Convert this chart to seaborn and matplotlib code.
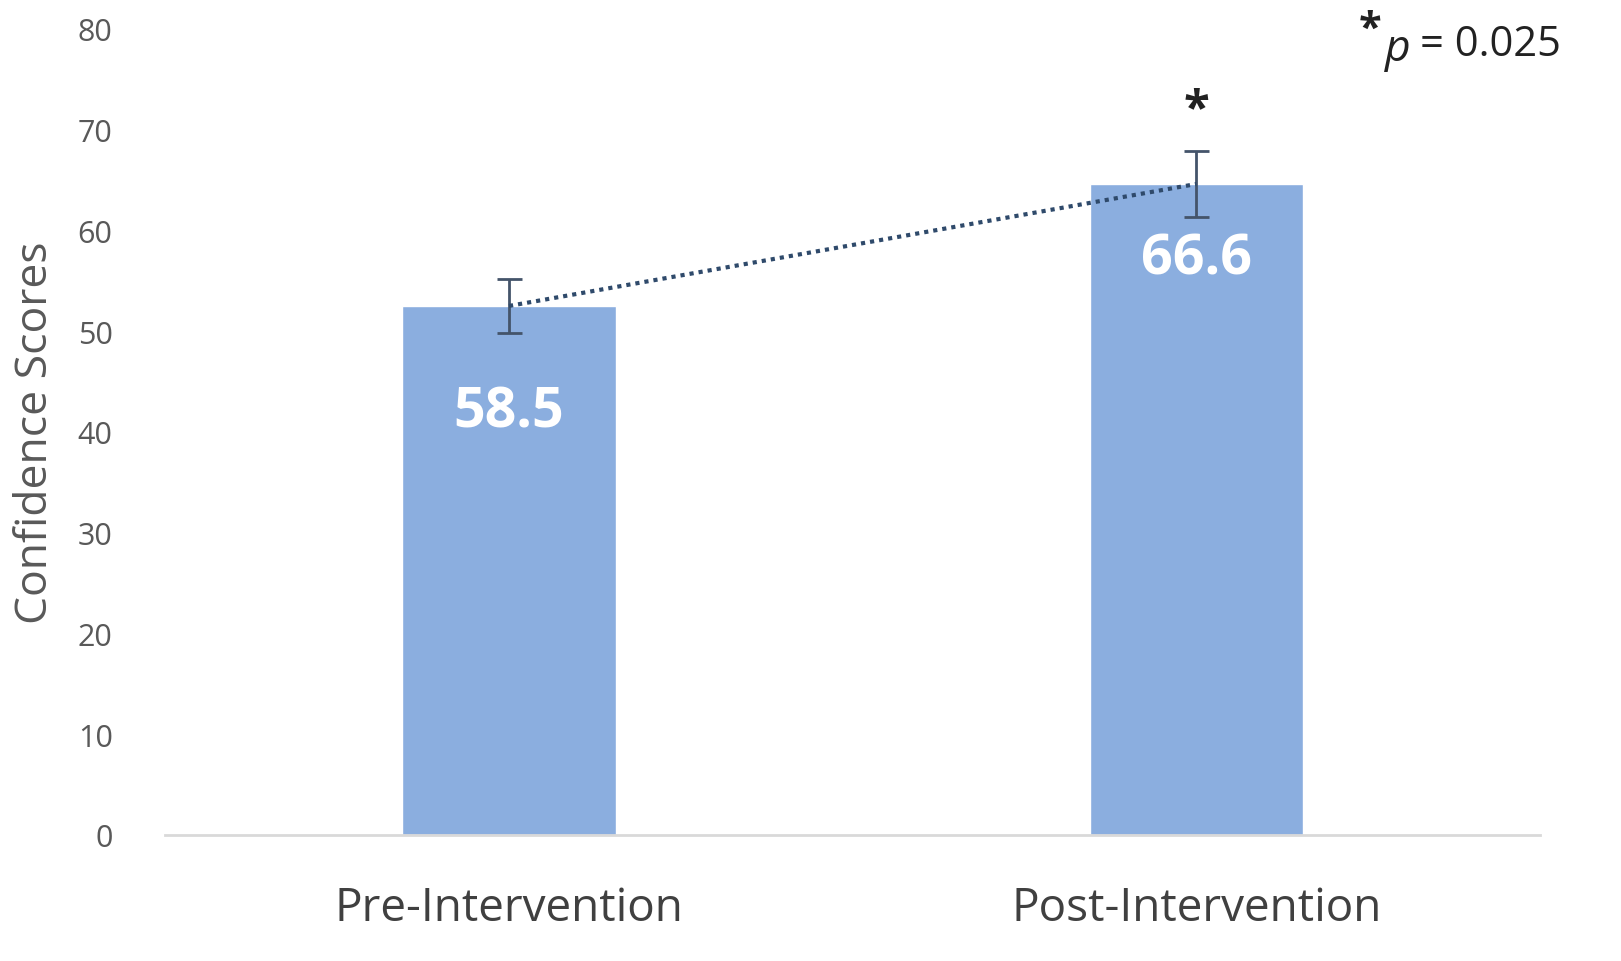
import matplotlib
matplotlib.use("Agg")
import matplotlib.pyplot as plt
import seaborn as sns
import pandas as pd

# Data
groups = ["Pre-Intervention", "Post-Intervention"]
bar_heights = [52.5, 64.6]
err = [2.7, 3.3]
value_labels = ["58.5", "66.6"]
p_text = "= 0.025"

sns.set_theme(style="white")
plt.rcParams['font.family'] = ['Open Sans', 'DejaVu Sans']

df = pd.DataFrame({'Group': groups, 'Score': bar_heights})

fig = plt.figure(figsize=(16.21, 9.62), dpi=100)
ax = fig.add_axes([0.102, 0.131, 0.848, 0.838])

bar_color = '#8BAEDF'
sns.barplot(data=df, x='Group', y='Score', color=bar_color, width=0.31,
            saturation=1, errorbar=None, ax=ax)

# error bars
ax.errorbar(range(len(groups)), bar_heights, yerr=err, fmt='none',
            ecolor='#44546A', elinewidth=2, capsize=9, capthick=2, zorder=4)

# dotted trend line between bar tops
ax.plot(range(len(groups)), bar_heights, linestyle=(0, (1, 1.2)), color='#2F4A6B',
        linewidth=3, zorder=5)

# value labels inside bars
for i, (lab, ypos) in enumerate(zip(value_labels, [42, 57.2])):
    ax.text(i, ypos, lab, ha='center', va='center', color='white',
            fontsize=40, fontweight='bold')

# significance asterisk
ax.text(1, 72, '*', ha='center', va='center', fontsize=34, fontweight='bold', color='#222222')

ax.set_xlim(-0.5, 1.5)
ax.set_ylim(0, 80)
ax.set_yticks(range(0, 81, 10))
ax.tick_params(axis='y', labelsize=22, labelcolor='#595959', length=0, pad=38)
ax.tick_params(axis='x', labelsize=33, labelcolor='#404040', length=0, pad=36)
ax.set_xlabel('')
ax.set_ylabel('Confidence Scores', fontsize=32, color='#595959', labelpad=14)

for s in ['top', 'right', 'left']:
    ax.spines[s].set_visible(False)
ax.spines['bottom'].set_color('#D9D9D9')
ax.spines['bottom'].set_linewidth(2)

# p-value note top right
fig.text(0.852, 0.968, '*', fontsize=30, fontweight='bold', color='#222222', ha='right', va='center')
fig.text(0.870, 0.948, 'p', fontsize=32, style='italic', color='#222222', ha='right', va='center')
fig.text(0.963, 0.953, p_text, fontsize=30, color='#222222', ha='right', va='center')

fig.savefig('out.png', dpi=100)
plt.close(fig)
